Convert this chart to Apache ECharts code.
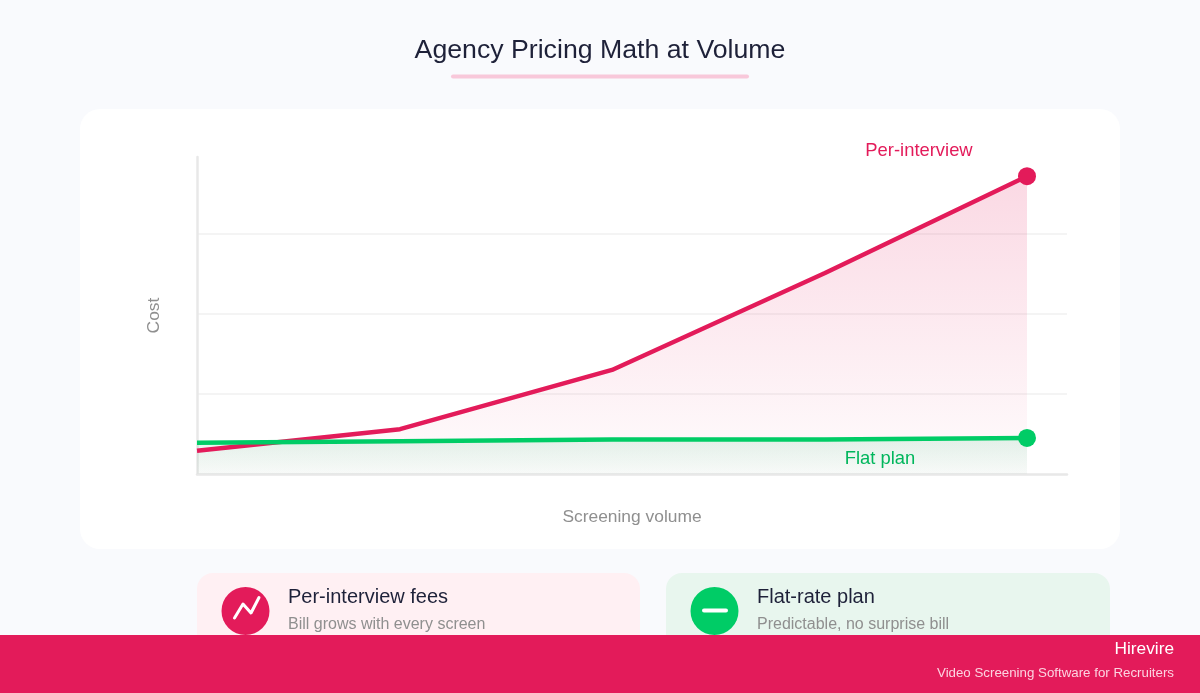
<!DOCTYPE html>
<html><head><meta charset="utf-8">
<style>html,body{margin:0;padding:0;background:#f9fafd}#c{width:1200px;height:693px}</style>
<script src="https://cdn.jsdelivr.net/npm/echarts@6/dist/echarts.min.js"></script>
</head><body><div id="c"></div>
<script>
const volumes = [0, 203, 415, 628, 830];
const perInterview = [0.29, 0.56, 1.30, 2.51, 3.72];
const flatPlan = [0.39, 0.41, 0.43, 0.43, 0.45];
const FONT = '"Liberation Sans", Arial, sans-serif';
const PINK = '#e31b5a', GREEN = '#00cc66', GREEN_TEXT = '#00b65c', INK = '#1e2139', GREY = '#8f8f8f';

function seriesData(values, labelText, color, labelColor, offset) {
  return values.map((v, i) => {
    const last = i === values.length - 1;
    return {
      value: [volumes[i], v],
      symbol: last ? 'circle' : 'none',
      symbolSize: last ? 18 : 0,
      itemStyle: { color },
      label: last ? { show: true, formatter: labelText, position: 'inside', offset, color: labelColor, fontSize: 18.4, fontFamily: FONT } : { show: false }
    };
  });
}
function fade(color, a, b) {
  return { type: 'linear', x: 0, y: 0, x2: 0, y2: 1, colorStops: [{ offset: 0, color: `rgba(${color},${a})` }, { offset: 1, color: `rgba(${color},${b})` }] };
}
const chart = echarts.init(document.getElementById('c'));
chart.setOption({
  animation: false,
  backgroundColor: '#f9fafd',
  title: { text: 'Agency Pricing Math at Volume', left: 'center', top: 32, textStyle: { color: INK, fontSize: 26.7, fontWeight: 'normal', fontFamily: FONT } },
  grid: { left: 197, right: 133, top: 157, bottom: 219 },
  xAxis: {
    type: 'value', min: 0, max: 870, name: 'Screening volume', nameLocation: 'middle', nameGap: 35,
    nameTextStyle: { color: GREY, fontSize: 17.4, fontFamily: FONT },
    axisLine: { onZero: false, lineStyle: { color: '#e8e8e8', width: 2.5 } }, axisTick: { show: false }, axisLabel: { show: false }, splitLine: { show: false }
  },
  yAxis: {
    type: 'value', min: 0, max: 3.96, interval: 1, name: 'Cost', nameLocation: 'middle', nameGap: 34,
    nameTextStyle: { color: GREY, fontSize: 17.4, fontFamily: FONT },
    axisLine: { show: true, lineStyle: { color: '#e8e8e8', width: 2.5 } }, axisTick: { show: false }, axisLabel: { show: false },
    splitLine: { show: true, showMaxLine: false, showMinLine: false, lineStyle: { color: '#f4f4f4', width: 2 } }
  },
  series: [
    { type: 'line', name: 'Per-interview', data: seriesData(perInterview, 'Per-interview', PINK, PINK, [-108, -25]), showAllSymbol: true, lineStyle: { color: PINK, width: 4.5 }, areaStyle: { color: fade('229,27,92', 0.24, 0.02) } },
    { type: 'line', name: 'Flat plan', data: seriesData(flatPlan, 'Flat plan', GREEN, GREEN_TEXT, [-147, 21]), showAllSymbol: true, lineStyle: { color: GREEN, width: 4.5 }, areaStyle: { color: fade('0,175,90', 0.16, 0.04) } }
  ],
  graphic: [
    { type: 'rect', z: -10, shape: { x: 80, y: 109, width: 1040, height: 440, r: 20 }, style: { fill: '#fff' } },
    { type: 'rect', z: 1, shape: { x: 451, y: 74.5, width: 298, height: 4, r: 2 }, style: { fill: '#f8c8da' } },
    { type: 'rect', z: 1, shape: { x: 197, y: 573, width: 443, height: 90, r: 16 }, style: { fill: '#fff0f3' } },
    { type: 'rect', z: 1, shape: { x: 666, y: 573, width: 444, height: 90, r: 16 }, style: { fill: '#e8f6ee' } },
    { type: 'circle', z: 2, shape: { cx: 245.5, cy: 611, r: 24 }, style: { fill: PINK } },
    { type: 'polyline', z: 3, shape: { points: [[234.5, 618], [243, 604], [251, 613], [259, 597.5]] }, style: { stroke: '#fff', lineWidth: 3, fill: null, lineCap: 'round', lineJoin: 'round' } },
    { type: 'circle', z: 2, shape: { cx: 714.5, cy: 611, r: 24 }, style: { fill: GREEN } },
    { type: 'line', z: 3, shape: { x1: 704, y1: 610.5, x2: 726, y2: 610.5 }, style: { stroke: '#fff', lineWidth: 4, lineCap: 'round' } },
    { type: 'text', z: 3, x: 288, y: 597.5, style: { text: 'Per-interview fees', fill: INK, font: '20px ' + FONT, textVerticalAlign: 'middle' } },
    { type: 'text', z: 3, x: 288, y: 625, style: { text: 'Bill grows with every screen', fill: GREY, font: '16px ' + FONT, textVerticalAlign: 'middle' } },
    { type: 'text', z: 3, x: 757, y: 597.5, style: { text: 'Flat-rate plan', fill: INK, font: '20px ' + FONT, textVerticalAlign: 'middle' } },
    { type: 'text', z: 3, x: 757, y: 625, style: { text: 'Predictable, no surprise bill', fill: GREY, font: '16px ' + FONT, textVerticalAlign: 'middle' } },
    { type: 'rect', z: 20, shape: { x: 0, y: 635, width: 1200, height: 58 }, style: { fill: PINK } },
    { type: 'text', z: 21, x: 1174, y: 649.5, style: { text: 'Hirevire', fill: '#fff', font: '17.3px ' + FONT, textAlign: 'right', textVerticalAlign: 'middle' } },
    { type: 'text', z: 21, x: 1174, y: 673, style: { text: 'Video Screening Software for Recruiters', fill: '#fcd3e0', font: '13.3px ' + FONT, textAlign: 'right', textVerticalAlign: 'middle' } }
  ]
});
</script></body></html>
